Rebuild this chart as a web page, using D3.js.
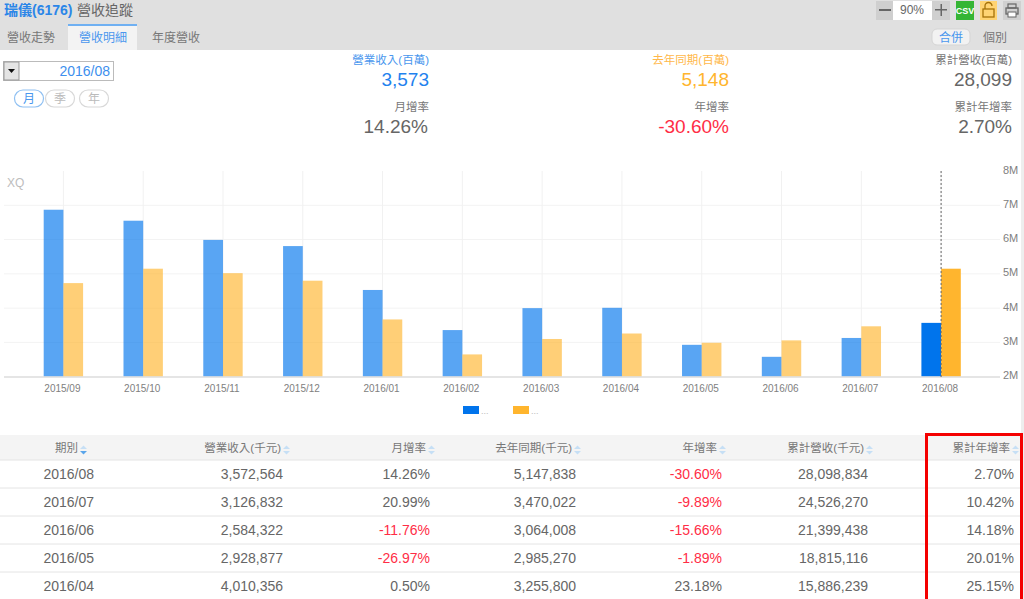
<!DOCTYPE html>
<html>
<head>
<meta charset="utf-8">
<script src="https://cdn.jsdelivr.net/npm/d3@7"></script>
<style>
  html, body { margin: 0; padding: 0; background: #fff; overflow: hidden; }
  svg { display: block; font-family: "Liberation Sans", "Noto Sans CJK TC", sans-serif; }
</style>
</head>
<body>
<div id="container"></div>
<script>
/* DATA */
const months = ["2015/09", "2015/10", "2015/11", "2015/12", "2016/01", "2016/02", "2016/03", "2016/04", "2016/05", "2016/06", "2016/07", "2016/08"];
const revenue = [6.87, 6.55, 5.99, 5.81, 4.53, 3.36, 4.00, 4.01, 2.93, 2.58, 3.13, 3.57];
const lastYear = [4.73, 5.15, 5.02, 4.80, 3.67, 2.65, 3.10, 3.26, 2.99, 3.06, 3.47, 5.15];
const yTicks = [2, 3, 4, 5, 6, 7, 8];

const tableHeaders = ["期別", "營業收入(千元)", "月增率", "去年同期(千元)", "年增率", "累計營收(千元)", "累計年增率"];
const periods = ["2016/08", "2016/07", "2016/06", "2016/05", "2016/04"];
const revenueRows = ["3,572,564", "3,126,832", "2,584,322", "2,928,877", "4,010,356"];
const momRows = ["14.26%", "20.99%", "-11.76%", "-26.97%", "0.50%"];
const lastYearRows = ["5,147,838", "3,470,022", "3,064,008", "2,985,270", "3,255,800"];
const yoyRows = ["-30.60%", "-9.89%", "-15.66%", "-1.89%", "23.18%"];
const cumRows = ["28,098,834", "24,526,270", "21,399,438", "18,815,116", "15,886,239"];
const cumYoyRows = ["2.70%", "10.42%", "14.18%", "20.01%", "25.15%"];

/* CONSTANTS */
const width = 1024, height = 599;
const blue = "#0074ec", orange = "#ffb52e", red = "#ff2d46", grey = "#666";

const svg = d3.select("#container").append("svg")
  .attr("width", width)
  .attr("height", height);

function label(x, y, str, size, color, anchor) {
  return svg.append("text")
    .attr("x", x).attr("y", y)
    .attr("font-size", size)
    .attr("fill", color)
    .attr("text-anchor", anchor || "end")
    .text(str);
}

function box(x, y, w, h, fill) {
  return svg.append("rect")
    .attr("x", x).attr("y", y)
    .attr("width", w).attr("height", h)
    .attr("fill", fill);
}

// HEADER BAND
box(0, 0, width, 50, "#e0e0e0");
box(1021, 50, 3, 549, "#eeeeee");
box(68, 24, 69, 26, "#f3f3f3");
box(68, 24, 69, 2, "#6fb0f2");

label(4, 15, "瑞儀(6176)", 14, "#2b86e8", "start").attr("font-weight", "bold");
label(77, 15, "營收追蹤", 14, "#666", "start");
label(7, 42, "營收走勢", 12, "#777", "start");
label(79, 42, "營收明細", 12, "#4a97ee", "start");
label(152, 42, "年度營收", 12, "#777", "start");

// TOOLBAR
box(876, 1, 17, 19, "#cfcfcf");
box(893, 1, 39, 19, "#fff");
box(932, 1, 18, 19, "#cfcfcf");
box(879, 9, 12, 2, "#666");
box(935, 9, 12, 1.5, "#666");
box(940.5, 4, 1.5, 12, "#666");
label(912, 14, "90%", 12, "#666", "middle");
box(956, 1, 18, 19, "#35b535");
label(965, 14, "CSV", 9, "#fff", "middle").attr("font-weight", "bold");
box(980, 1, 17, 19, "#ffd373");
box(983, 9, 11, 8, "none").attr("stroke", "#a5710a").attr("stroke-width", 1.3);
svg.append("path").attr("d", "M985 9V6a3.5 3.5 0 0 1 7 0").attr("fill", "none").attr("stroke", "#a5710a").attr("stroke-width", 1.3);
box(1003, 1, 18, 19, "#d0d0d0");
box(1006, 8, 12, 6, "none").attr("stroke", "#666").attr("stroke-width", 1.3);
box(1008, 4, 8, 4, "none").attr("stroke", "#666").attr("stroke-width", 1.2);
box(1008, 12, 8, 5, "#fff").attr("stroke", "#666").attr("stroke-width", 1);

box(932, 29, 38, 16, "#f2f2f2").attr("rx", 5).attr("stroke", "#d5d5d5");
label(951, 42, "合併", 12, "#4a97ee", "middle");
label(995, 42, "個別", 12, "#777", "middle");

// DATE PICKER
box(3.5, 61.5, 110, 19, "#fff").attr("stroke", "#bbb");
box(4, 62, 15, 18, "#e4e4e4").attr("stroke", "#999");
svg.append("path").attr("d", "M8 69h7l-3.5 4z").attr("fill", "#111");
label(110, 76, "2016/08", 14, "#3d8fee");

const periodBtns = [["月", 29, "#4a97ee", "#8fc0f2"], ["季", 60, "#bbb", "#d8d8d8"], ["年", 94, "#bbb", "#d8d8d8"]];
periodBtns.forEach(([t, cx, color, stroke]) => {
  svg.append("rect").attr("x", cx - 14.5).attr("y", 90).attr("width", 29).attr("height", 17)
    .attr("rx", 8.5).attr("fill", "#fff").attr("stroke", stroke).attr("stroke-width", 1.2);
  label(cx, 103, t, 12, color, "middle");
});

// SUMMARY NUMBERS
label(429, 64, "營業收入(百萬)", 11.5, "#4a97ee");
label(429, 86, "3,573", 19, "#1f82ee");
label(429, 111, "月增率", 11.5, "#777");
label(428, 133, "14.26%", 19, grey);
label(729, 64, "去年同期(百萬)", 11.5, "#ffb84a");
label(729, 86, "5,148", 19, orange);
label(729, 111, "年增率", 11.5, "#777");
label(729, 133, "-30.60%", 19, red);
label(1012, 64, "累計營收(百萬)", 11.5, "#777");
label(1012, 86, "28,099", 19, grey);
label(1012, 111, "累計年增率", 11.5, "#777");
label(1012, 133, "2.70%", 19, grey);

// SCALES
const xScale = d3.scaleBand()
  .domain(months)
  .range([23.5, 981])
  .padding(0);

const yScale = d3.scaleLinear()
  .domain([2, 8])
  .range([376.7, 171]);

const barW = 19.7;
const center = d => xScale(d) + xScale.bandwidth() / 2;
const last = months[months.length - 1];

// GRID
svg.append("g").selectAll("line")
  .data(yTicks.filter(d => d > 2 && d < 8))
  .join("line")
  .attr("x1", 4).attr("x2", 1000)
  .attr("y1", d => yScale(d)).attr("y2", d => yScale(d))
  .attr("stroke", "#f3f3f3").attr("stroke-width", 1);

svg.append("g").selectAll("line")
  .data(months)
  .join("line")
  .attr("x1", center).attr("x2", center)
  .attr("y1", 171).attr("y2", 377)
  .attr("stroke", "#f1f1f1").attr("stroke-width", 1);

label(7, 187, "XQ", 12, "#bdbdbd", "start");

// BARS
svg.append("g").selectAll("rect")
  .data(months)
  .join("rect")
  .attr("x", d => center(d) - barW)
  .attr("y", (d, i) => yScale(revenue[i]))
  .attr("width", barW)
  .attr("height", (d, i) => yScale(2) - yScale(revenue[i]))
  .attr("fill", blue)
  .attr("fill-opacity", d => d === last ? 1 : 0.65);

svg.append("g").selectAll("rect")
  .data(months)
  .join("rect")
  .attr("x", d => center(d))
  .attr("y", (d, i) => yScale(lastYear[i]))
  .attr("width", barW)
  .attr("height", (d, i) => yScale(2) - yScale(lastYear[i]))
  .attr("fill", orange)
  .attr("fill-opacity", d => d === last ? 1 : 0.65);

// AXES
const xAxis = d3.axisBottom(xScale).tickSize(0).tickPadding(8);
const xG = svg.append("g")
  .attr("transform", "translate(-1,377)")
  .call(xAxis);
xG.select(".domain").remove();
xG.selectAll("text")
  .attr("font-size", 10)
  .attr("font-family", "Liberation Sans")
  .attr("fill", "#808080");

svg.append("line")
  .attr("x1", 4).attr("x2", 1000)
  .attr("y1", 377).attr("y2", 377)
  .attr("stroke", "#dcdcdc").attr("stroke-width", 1.5);

const yAxis = d3.axisRight(yScale).tickValues(yTicks).tickSize(0).tickPadding(0).tickFormat(d => d + "M");
const yG = svg.append("g")
  .attr("transform", "translate(1003,-1.5)")
  .call(yAxis);
yG.select(".domain").remove();
yG.selectAll("text")
  .attr("font-size", 11)
  .attr("font-family", "Liberation Sans")
  .attr("fill", "#808080");

// CROSSHAIR
svg.append("line")
  .attr("x1", center(last)).attr("x2", center(last))
  .attr("y1", 171).attr("y2", 377)
  .attr("stroke", "#666").attr("stroke-dasharray", "2,2");

// LEGEND
box(463, 406, 16, 8, blue);
label(481, 414, "...", 9, "#bbb", "start");
box(513, 406, 16, 8, orange);
label(531, 414, "...", 9, "#bbb", "start");

// TABLE
box(0, 435, 1021, 25, "#f4f4f4");

const headerRight = [78, 281, 426, 572, 717, 864, 1010];
const cellRight = [94, 283, 430, 576, 722, 868, 1014];
const columns = [periods, revenueRows, momRows, lastYearRows, yoyRows, cumRows, cumYoyRows];
const rowY = d3.scaleBand().domain(periods).range([460, 600]);

tableHeaders.forEach((h, i) => {
  label(headerRight[i], 452, h, 11.5, "#777");
  svg.append("path")
    .attr("d", `M${headerRight[i] + 2} 449l3.5-3.5 3.5 3.5z`).attr("fill", "#c6dff5");
  svg.append("path")
    .attr("d", `M${headerRight[i] + 2} 451l3.5 3.5 3.5-3.5z`).attr("fill", i === 0 ? "#5aa5ea" : "#c6dff5");
});

svg.append("g").selectAll("line")
  .data(periods)
  .join("line")
  .attr("x1", 0).attr("x2", 1021)
  .attr("y1", d => rowY(d)).attr("y2", d => rowY(d))
  .attr("stroke", "#e4e4e4");

columns.forEach((col, c) => {
  col.forEach((v, r) => {
    const isRed = v.startsWith("-");
    label(cellRight[c], rowY(periods[r]) + 19, v, 14, isRed ? red : grey);
  });
});

// RED HIGHLIGHT
svg.append("path")
  .attr("d", "M926.5 600V434.5H1021.5V600")
  .attr("fill", "none")
  .attr("stroke", "#f40000")
  .attr("stroke-width", 3);
</script>
</body>
</html>
